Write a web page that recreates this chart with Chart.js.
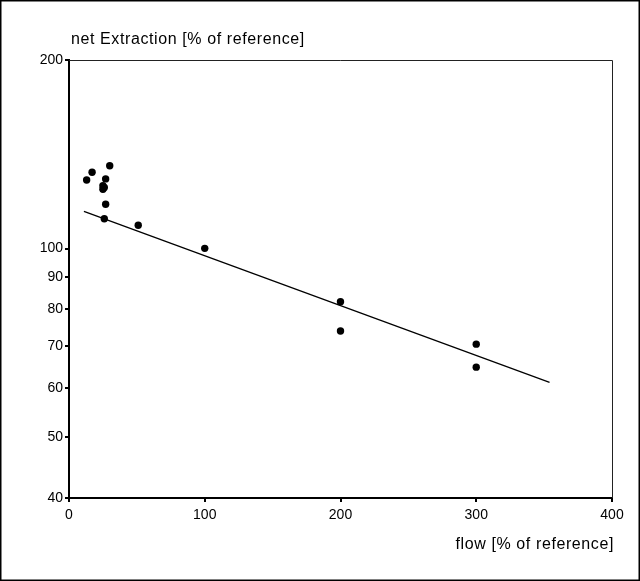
<!DOCTYPE html>
<html>
<head>
<meta charset="utf-8">
<script src="https://cdn.jsdelivr.net/npm/chart.js@4/dist/chart.umd.min.js"></script>
<style>
  html, body { margin: 0; padding: 0; background: #fff; }
  #wrap { width: 640px; height: 581px; position: relative; }
</style>
</head>
<body>
<div id="wrap"><canvas id="flowChart" width="640" height="581"></canvas></div>
<script>
// measured points
const flowValues = [13, 17, 30, 27, 25, 26, 25, 27, 26, 51, 100, 200, 200, 300, 300];
const extractionValues = [128.7, 132.4, 135.6, 129.2, 126.0, 125.2, 124.4, 117.7, 111.6, 109.0, 100.1, 82.3, 73.9, 70.4, 64.7];

// regression line end points
const fitFlow = [11, 354];
const fitExtraction = [114.7, 61.2];

const xTicks = [0, 100, 200, 300, 400];
const yTicks = [40, 50, 60, 70, 80, 90, 100, 200];

const yTitle = 'net Extraction [% of reference]';
const xTitle = 'flow [% of reference]';

const FONT = '"Liberation Sans", Arial, sans-serif';

// frame, top/right axis lines and the two axis titles
const decorations = {
    id: 'decorations',
    afterDraw(chart) {
        const ctx = chart.ctx;
        const area = chart.chartArea;
        ctx.save();
        ctx.strokeStyle = '#000';
        ctx.lineWidth = 1.5;
        ctx.strokeRect(0.75, 0.75, chart.width - 1.5, chart.height - 1.5);

        ctx.lineWidth = 1;
        ctx.strokeStyle = '#222';
        ctx.beginPath();
        ctx.moveTo(area.left, area.top + 0.5);
        ctx.lineTo(area.right + 0.5, area.top + 0.5);
        ctx.lineTo(area.right + 0.5, area.bottom);
        ctx.stroke();

        ctx.fillStyle = '#000';
        ctx.font = '16px ' + FONT;
        ctx.letterSpacing = '0.6px';
        ctx.textBaseline = 'middle';
        ctx.textAlign = 'left';
        ctx.fillText(yTitle, 71, 40);
        ctx.textAlign = 'right';
        ctx.fillText(xTitle, 614, 545);
        ctx.restore();
    }
};

const ctx = document.getElementById('flowChart');
new Chart(ctx, {
    type: 'scatter',
    data: {
        datasets: [
            {
                label: 'measured',
                data: flowValues.map((x, i) => ({ x: x, y: extractionValues[i] })),
                backgroundColor: '#000',
                borderColor: '#000',
                pointRadius: 3.7,
                pointHoverRadius: 3.7,
                borderWidth: 0
            },
            {
                label: 'fit',
                type: 'line',
                data: fitFlow.map((x, i) => ({ x: x, y: fitExtraction[i] })),
                borderColor: '#000',
                borderWidth: 1.3,
                pointRadius: 0,
                fill: false
            }
        ]
    },
    options: {
        responsive: false,
        animation: false,
        layout: { padding: { top: 60, right: 28, left: 0, bottom: 0 } },
        plugins: {
            legend: { display: false },
            tooltip: { enabled: false }
        },
        scales: {
            x: {
                type: 'linear',
                min: 0,
                max: 400,
                afterBuildTicks: (scale) => { scale.ticks = xTicks.map(v => ({ value: v })); },
                afterFit: (scale) => { scale.height = 83; },
                border: { display: true, color: '#000', width: 2 },
                grid: { drawOnChartArea: false, drawTicks: true, tickLength: 4, color: '#000', lineWidth: 2 },
                ticks: {
                    color: '#000',
                    padding: 5,
                    font: { family: FONT, size: 14 }
                }
            },
            y: {
                type: 'logarithmic',
                min: 40,
                max: 200,
                afterBuildTicks: (scale) => { scale.ticks = yTicks.map(v => ({ value: v })); },
                afterFit: (scale) => { scale.width = 69; },
                border: { display: true, color: '#000', width: 2 },
                grid: { drawOnChartArea: false, drawTicks: true, tickLength: 4, color: '#000', lineWidth: 2 },
                ticks: {
                    color: '#000',
                    padding: 2,
                    font: { family: FONT, size: 14 },
                    callback: (v) => String(v)
                }
            }
        }
    },
    plugins: [decorations]
});
</script>
</body>
</html>
